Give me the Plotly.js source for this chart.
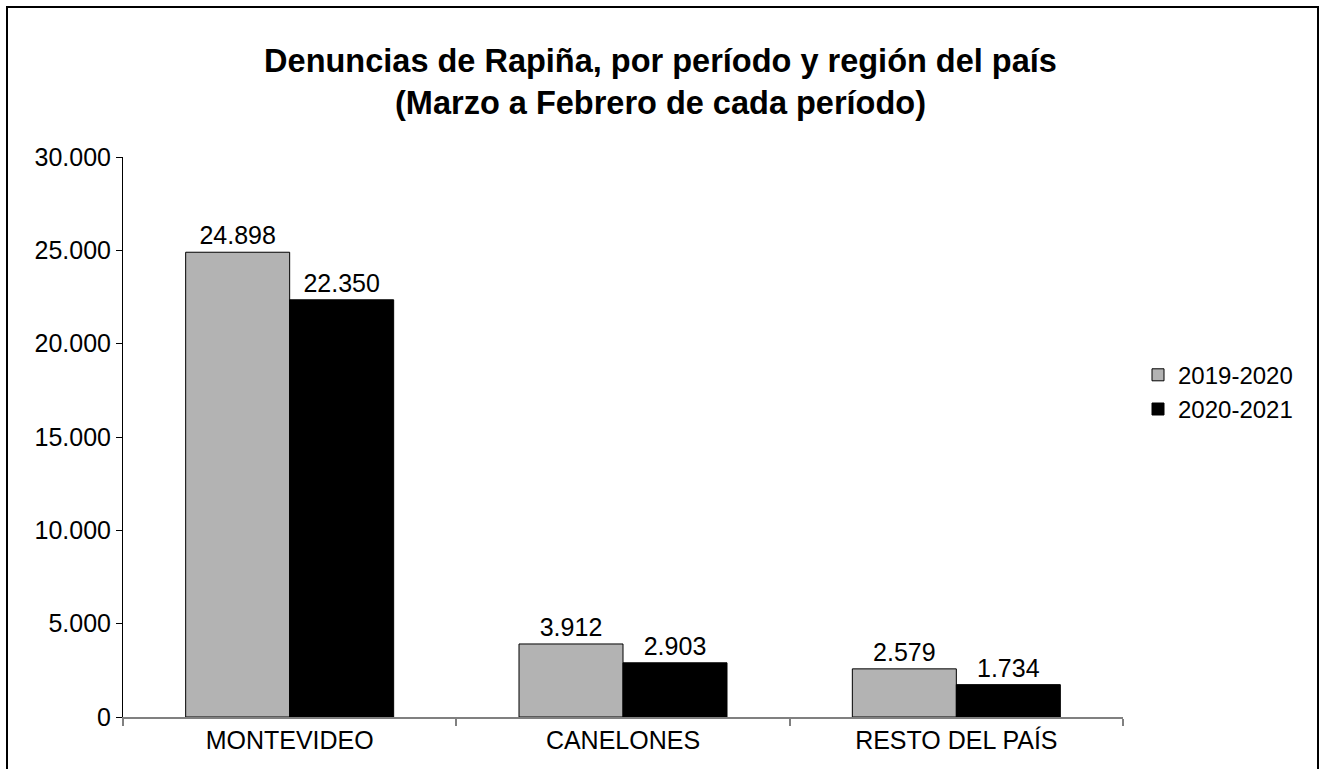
<!DOCTYPE html>
<html>
<head>
<meta charset="utf-8">
<script src="https://cdn.plot.ly/plotly-3.0.1.min.js"></script>
<style>
html,body{margin:0;padding:0;background:#fff;}
#chart{width:1321px;height:769px;}
</style>
</head>
<body>
<div id="chart"></div>
<script>
const categories = ['MONTEVIDEO', 'CANELONES', 'RESTO DEL PAÍS'];
const seriesNames = ['2019-2020', '2020-2021'];
const values2019 = [24898, 3912, 2579];
const values2020 = [22350, 2903, 1734];
const yTicks = [0, 5000, 10000, 15000, 20000, 25000, 30000];

const FONT = 'Liberation Sans, Arial, sans-serif';

const traces = [
  {
    type: 'bar', name: seriesNames[0], x: categories, y: values2019,
    marker: {color: '#b3b3b3', line: {color: '#000', width: 1}},
    texttemplate: '%{y:,}', textposition: 'outside', cliponaxis: false,
    textfont: {family: FONT, size: 25, color: '#000'}
  },
  {
    type: 'bar', name: seriesNames[1], x: categories, y: values2020,
    marker: {color: '#000000', line: {color: '#000', width: 1}},
    texttemplate: '%{y:,}', textposition: 'outside', cliponaxis: false,
    textfont: {family: FONT, size: 25, color: '#000'}
  }
];

const layout = {
  width: 1321, height: 769,
  separators: ',.',
  paper_bgcolor: '#fff', plot_bgcolor: '#fff',
  font: {family: FONT, color: '#000', size: 25},
  margin: {l: 123, r: 198, t: 157, b: 52, pad: 0},
  title: {
    text: '<b>Denuncias de Rapiña, por período y región del país<br>(Marzo a Febrero de cada período)</b>',
    font: {family: FONT, size: 32.5, color: '#000'},
    x: 0.5, xref: 'container', xanchor: 'center',
    y: 1 - 72/769, yref: 'container', yanchor: 'middle'
  },
  barmode: 'group', bargap: 0.376, bargroupgap: 0,
  xaxis: {
    type: 'category', showgrid: false, zeroline: false,
    showline: true, linecolor: '#808080', linewidth: 2,
    ticks: 'outside', tickson: 'boundaries', ticklen: 7, tickcolor: '#808080', tickwidth: 2,
    tickfont: {family: FONT, size: 25, color: '#000'}
  },
  yaxis: {
    range: [0, 30000], tickvals: yTicks, tickformat: ',d',
    showgrid: false, zeroline: false,
    showline: true, linecolor: '#000', linewidth: 1,
    ticks: 'outside', ticklen: 6, tickcolor: '#000', tickwidth: 1,
    tickfont: {family: FONT, size: 25, color: '#000'}
  },
  legend: {
    x: 1.015, xanchor: 'left', y: 0.58, yanchor: 'middle',
    font: {family: FONT, size: 24, color: '#000'},
    bgcolor: 'rgba(0,0,0,0)', itemwidth: 30, tracegroupgap: 0
  },
  shapes: [
    {type: 'rect', xref: 'paper', yref: 'paper',
     x0: (7 - 123) / 1000, x1: (1318 - 123) / 1000,
     y0: (717 - 780) / 560, y1: (717 - 7) / 560,
     line: {color: '#000', width: 2}, fillcolor: 'rgba(0,0,0,0)', layer: 'below'}
  ],
  showlegend: true
};

Plotly.newPlot('chart', traces, layout, {displayModeBar: false, staticPlot: true});
</script>
</body>
</html>
